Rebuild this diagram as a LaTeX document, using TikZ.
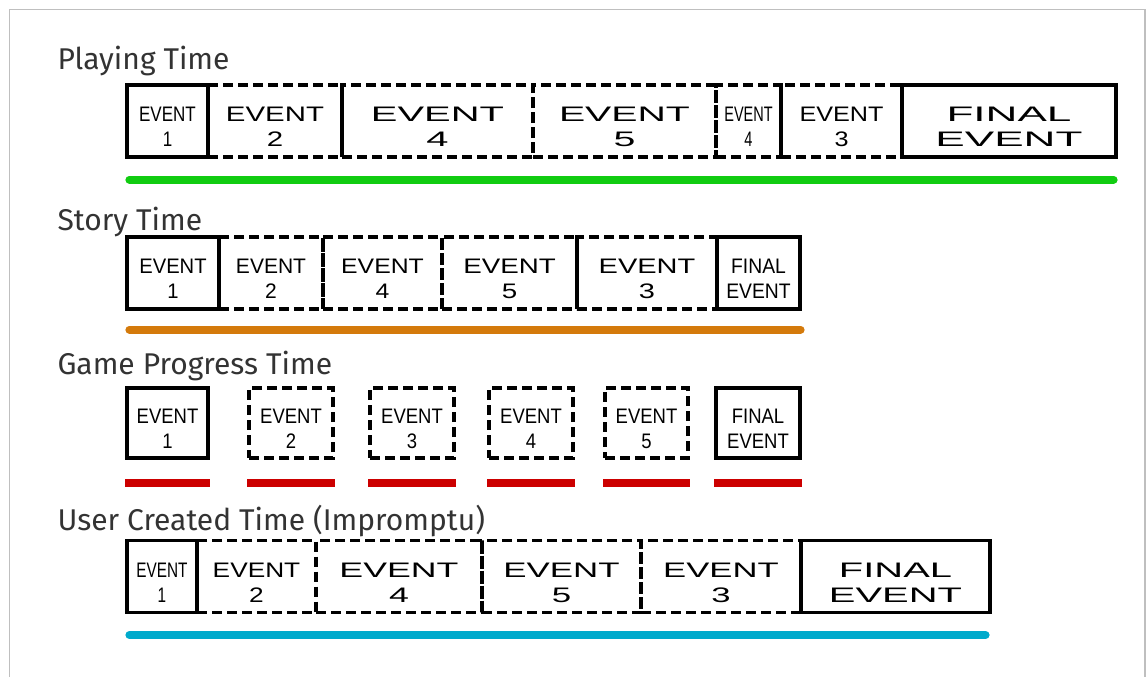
\documentclass[tikz,border=0pt]{standalone}
\usepackage{fontspec}
\setmainfont{Fira Sans}
\newfontfamily\boxfont{Liberation Sans}
\usepackage{graphicx}
\newcommand{\evt}[3]{\raisebox{-8pt}[\height][\depth]{\scalebox{#1}[1]{\begin{tabular}{@{}c@{}}#2\\#3\end{tabular}}}}

\definecolor{playgreen}{RGB}{17,204,17}
\definecolor{storyorange}{RGB}{212,122,11}
\definecolor{gamered}{RGB}{204,0,0}
\definecolor{userblue}{RGB}{0,170,204}

\begin{document}
\begin{tikzpicture}[x=1pt,y=-1pt,
    evsolid/.style={draw=black, line width=3.2pt, inner sep=0pt, minimum height=72pt,
        font=\boxfont\fontsize{21}{25}\selectfont, text=black},
    evdash/.style={evsolid, dash pattern=on 10pt off 5pt},
    heading/.style={anchor=base west, font=\fontsize{30}{36}\selectfont, text=black!80},
    bar/.style={line width=8pt, line cap=round}]
        \useasboundingbox (0,0) rectangle (1146,677);
        \draw[black!25, line width=1.5pt] (9.5,677) -- (9.5,9.5) -- (1145,9.5) -- (1145,677);

        % playing time
        \node[heading] (tplay) at (54,70) {Playing Time};
        \node[evdash, minimum width=134pt] (p2) at (275,121) {\evt{1.4}{EVENT}{2}};
        \node[evdash, minimum width=191pt] (p4) at (437.5,121) {\evt{1.9}{EVENT}{4}};
        \node[evdash, minimum width=183pt] (p5) at (624.5,121) {\evt{1.87}{EVENT}{5}};
        \node[evdash, minimum width=65pt] (p4b) at (748.5,121) {\evt{0.69}{EVENT}{4}};
        \node[evdash, minimum width=121pt] (p3) at (841.5,121) {\evt{1.2}{EVENT}{3}};
        \node[evsolid, minimum width=81pt] (p1) at (167.5,121) {\evt{0.81}{EVENT}{1}};
        \node[evsolid, minimum width=214pt] (pf) at (1009,121) {\evt{2.1}{FINAL}{EVENT}};
        \draw[bar, playgreen] ([xshift=4pt,yshift=-21pt]p1.south west) -- ([xshift=-4pt,yshift=-21pt]pf.south east);

        % story time
        \node[heading] (tstory) at (54,230) {Story Time};
        \node[evdash, minimum width=104pt] (s2) at (271,273) {\evt{1.0}{EVENT}{2}};
        \node[evdash, minimum width=119pt] (s4) at (382.5,273) {\evt{1.18}{EVENT}{4}};
        \node[evdash, minimum width=135pt] (s5) at (509.5,273) {\evt{1.32}{EVENT}{5}};
        \node[evdash, minimum width=140pt] (s3) at (647,273) {\evt{1.38}{EVENT}{3}};
        \node[evsolid, minimum width=92pt] (s1) at (173,273) {\evt{0.96}{EVENT}{1}};
        \node[evsolid, minimum width=83pt] (sf) at (758.5,273) {\evt{0.92}{FINAL}{EVENT}};
        \draw[bar, storyorange] ([xshift=4pt,yshift=-19pt]s1.south west) -- ([xshift=-1pt,yshift=-19pt]sf.south east);

        % game progress time
        \node[heading] (tgame) at (54,374) {Game Progress Time};
        \node[evsolid, minimum width=81pt, minimum height=70pt] (g1) at (167.5,423) {\evt{0.88}{EVENT}{1}};
        \node[evdash, minimum width=84pt, minimum height=70pt] (g2) at (291,423) {\evt{0.88}{EVENT}{2}};
        \node[evdash, minimum width=84pt, minimum height=70pt] (g3) at (412,423) {\evt{0.88}{EVENT}{3}};
        \node[evdash, minimum width=84pt, minimum height=70pt] (g4) at (531,423) {\evt{0.88}{EVENT}{4}};
        \node[evdash, minimum width=83pt, minimum height=70pt] (g5) at (646.5,423) {\evt{0.88}{EVENT}{5}};
        \node[evsolid, minimum width=84pt, minimum height=70pt] (gf) at (758,423) {\evt{0.88}{FINAL}{EVENT}};
        \foreach \g in {g1,g2,g3,g4,g5,gf}
            \draw[line width=8pt, gamered] ([yshift=-23pt]\g.south west) -- ([yshift=-23pt]\g.south east);

        % user created time
        \node[heading] (tuser) at (54,530) {User Created Time (Impromptu)};
        \node[evdash, minimum width=119pt] (u2) at (256.5,576.5) {\evt{1.25}{EVENT}{2}};
        \node[evdash, minimum width=166pt] (u4) at (399,576.5) {\evt{1.7}{EVENT}{4}};
        \node[evdash, minimum width=159pt] (u5) at (561.5,576.5) {\evt{1.66}{EVENT}{5}};
        \node[evdash, minimum width=160pt] (u3) at (721,576.5) {\evt{1.65}{EVENT}{3}};
        \node[evsolid, minimum width=70pt] (u1) at (162,576.5) {\evt{0.73}{EVENT}{1}};
        \node[evsolid, minimum width=189pt] (uf) at (895.5,576.5) {\evt{1.9}{FINAL}{EVENT}};
        \draw[bar, userblue] ([xshift=4pt,yshift=-21pt]u1.south west) -- ([xshift=-6pt,yshift=-21pt]uf.south east);
    \end{tikzpicture}
\end{document}
